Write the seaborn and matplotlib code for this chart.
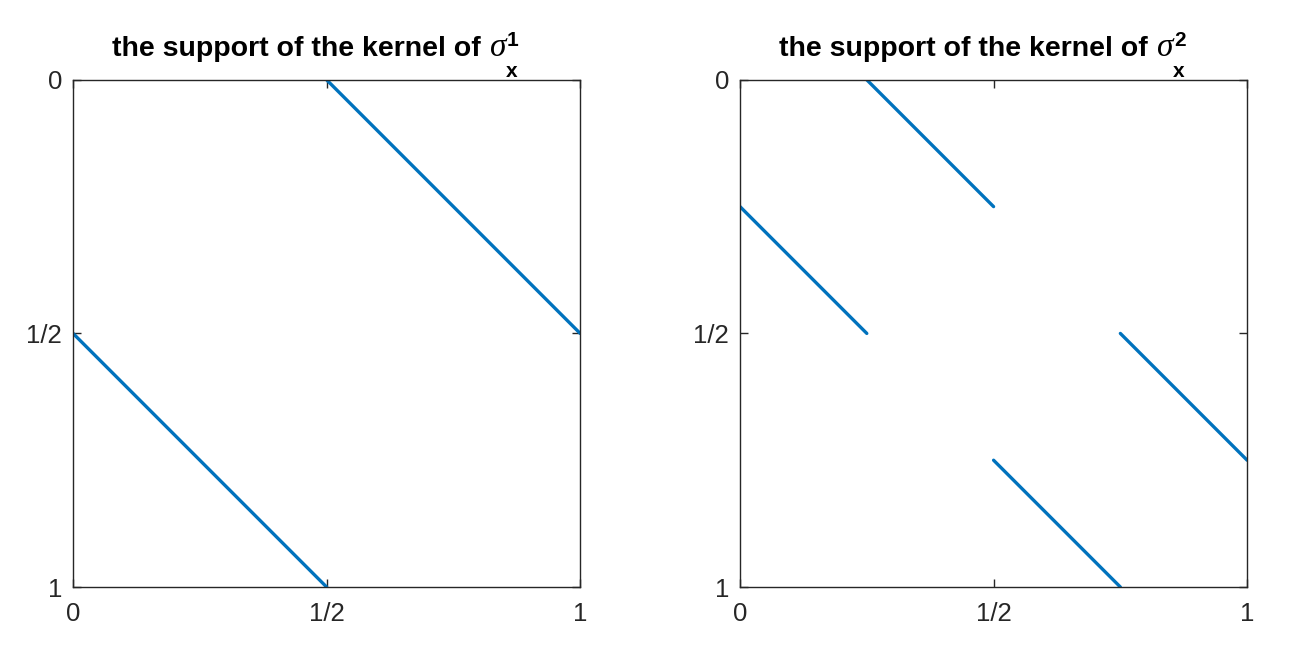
import matplotlib.pyplot as plt
import pandas as pd
import seaborn as sns

LINE_COLOR = "#0072BD"
AX_COLOR = "#262626"

tick_pos = [0, 0.5, 1]
tick_labels = ["0", "1/2", "1"]

# segment endpoints (x, y), y axis runs downward
seg1_id = [0, 0, 1, 1]
seg1_x = [0.5, 1.0, 0.0, 0.5]
seg1_y = [0.0, 0.5, 0.5, 1.0]

seg2_id = [0, 0, 1, 1, 2, 2, 3, 3]
seg2_x = [0.25, 0.5, 0.0, 0.25, 0.75, 1.0, 0.5, 0.75]
seg2_y = [0.0, 0.25, 0.25, 0.5, 0.5, 0.75, 0.75, 1.0]

title_text = "the support of the kernel of"
title_sup = ["1", "2"]

sns.set_style("white")
plt.rcParams["font.family"] = ["Liberation Sans", "DejaVu Sans"]

fig = plt.figure(figsize=(13.07, 6.63), dpi=100)
axes = [fig.add_axes([0.0559, 0.1146, 0.388, 0.765]),
        fig.add_axes([0.5662, 0.1146, 0.388, 0.765])]

data = [pd.DataFrame({"seg": seg1_id, "x": seg1_x, "y": seg1_y}),
        pd.DataFrame({"seg": seg2_id, "x": seg2_x, "y": seg2_y})]

TITLE_Y = 1.046  # baseline of the title, axes fraction

for ax, df, sup in zip(axes, data, title_sup):
    sns.lineplot(data=df, x="x", y="y", units="seg", estimator=None, sort=False,
                 color=LINE_COLOR, linewidth=2.4, ax=ax)
    ax.set_xlim(0, 1)
    ax.set_ylim(1, 0)
    ax.set_xticks(tick_pos)
    ax.set_xticklabels(tick_labels)
    ax.set_yticks(tick_pos)
    ax.set_yticklabels(tick_labels)
    ax.set_xlabel("")
    ax.set_ylabel("")
    ax.tick_params(direction="in", length=6, width=1, colors=AX_COLOR,
                   labelsize=18.5, labelcolor=AX_COLOR, top=True, right=True,
                   bottom=True, left=True)
    ax.tick_params(axis="x", pad=11)
    ax.tick_params(axis="y", pad=8)
    for sp in ax.spines.values():
        sp.set_color(AX_COLOR)
        sp.set_linewidth(1)

    # title built in pieces: text, sigma, superscript, subscript (MATLAB tex look)
    t = ax.text(0.0765, TITLE_Y, title_text, transform=ax.transAxes, ha="left",
                va="baseline", fontsize=20.5, fontweight="bold", color="black")
    sig = ax.annotate("\u03c3", xy=(1, TITLE_Y), xycoords=(t, ax.transAxes),
                      xytext=(9, 0), textcoords="offset pixels", ha="left",
                      va="baseline", fontsize=24, fontstyle="italic",
                      family="Liberation Serif", color="black")
    ax.annotate(sup, xy=(1, TITLE_Y), xycoords=(sig, ax.transAxes),
                xytext=(1, 10), textcoords="offset pixels", ha="left",
                va="baseline", fontsize=15, fontweight="bold", color="black")
    ax.annotate("x", xy=(1, TITLE_Y), xycoords=(sig, ax.transAxes),
                xytext=(0, -21), textcoords="offset pixels", ha="left",
                va="baseline", fontsize=15, fontweight="bold", color="black")

fig.savefig("out.png", dpi=100)
